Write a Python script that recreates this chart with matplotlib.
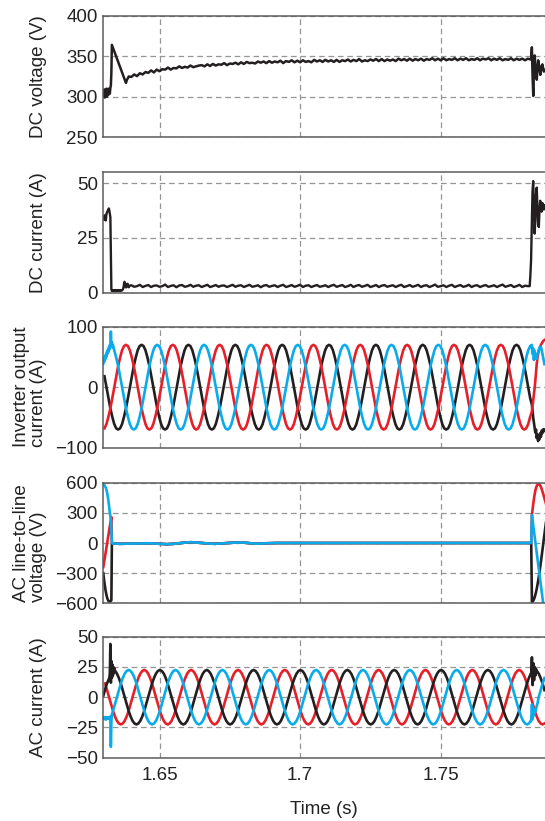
import numpy as np
import matplotlib.pyplot as plt

plt.rcParams['font.family'] = ['Liberation Sans', 'DejaVu Sans']
plt.rcParams['axes.unicode_minus'] = True

BLACK = '#231f20'
RED = '#e5202a'
BLUE = '#0aabea'

# ---- axis data ----
t_min, t_max = 1.630, 1.7871
x_ticks = [1.65, 1.70, 1.75]
x_tick_labels = ['1.65', '1.7', '1.75']
f_grid = 60.0  # Hz, read from the spacing of the peaks

# ---- DC voltage (V) ----
vdc_start = [306, 300, 309, 299, 308, 301, 310, 300, 309, 302, 310, 303,
             308, 304, 311, 314, 330, 364]            # every 0.18 ms from 1.630
vdc_knee_t = [1.63807, 1.63842, 1.63888]
vdc_knee_v = [317, 321, 323.5]
vdc_steady = [                                          # every 1 ms from 1.639
    325, 324.5, 327.5, 325.5, 329, 327.5, 330.5, 329.5, 332.5, 330,
    333.5, 331.5, 334, 333.5, 336, 333.5, 335.5, 335, 337.5, 335.5,
    337, 336, 338.5, 336.5, 337.5, 338.5, 339, 337.5, 340, 338,
    340.5, 338.5, 340, 339.5, 341.5, 339, 341, 340.5, 342, 340,
    342.5, 340.5, 343, 341.5, 342, 341, 343.5, 342, 343.5, 341.5,
    344, 342, 343.5, 342.5, 344.5, 341.5, 344, 343, 345, 342.5,
    344.5, 342.5, 345, 343, 344, 342.5, 345.5, 343.5, 345, 343,
    345.5, 343.5, 345, 343, 345.5, 343, 345, 344, 346, 343.5,
    345.5, 344, 346.5, 343.5, 345, 344, 346, 344.5, 346.5, 344,
    346.5, 344, 346, 344.5, 346, 344, 347, 345, 346.5, 344.5,
    347, 344.5, 346.5, 345, 347, 344.5, 346.5, 345.5, 347.5, 345,
    347, 345, 347.5, 345, 346.5, 345.5, 347.5, 345, 347, 345.5,
    347.5, 345, 346.5, 345.5, 347.5, 345, 347, 346, 347.5, 345,
    347, 345.5, 347.5, 345, 346.5, 345.5, 347.5, 345, 347, 345.5,
    347, 345, 347, 346]
vdc_end = [346, 361, 325, 301, 335, 351, 338, 326, 321, 335, 345, 340,
           333, 327, 334, 338, 340, 335, 331, 333]      # every 0.25 ms from 1.78218

# ---- DC current (A) ----
idc_start = [34.5, 33.5, 35, 33.5, 35.5, 33, 35.5, 36.5, 37, 37.5, 38, 38.5,
             37.5, 36, 34.5, 18, 1.5, 0.8,
             1.0, 1.2, 0.9, 1.1, 0.8, 1.0, 1.2, 0.9, 1.1, 0.9, 1.0, 1.2, 1.0,
             0.9, 1.1, 1.0, 1.2, 1.0, 0.9, 1.1, 1.3, 1.6, 2.5,
             4.0, 5.0, 4.2, 2.8, 2.4, 2.9, 3.8, 4.1, 3.2, 2.5, 2.6, 3.2]  # every 0.18 ms from 1.630
idc_steady = [                                          # every 1 ms from 1.640
    3.4, 2.7, 3.0, 3.6, 2.6, 3.1, 3.5, 2.6, 3.2, 3.3,
    2.7, 3.0, 3.7, 2.6, 3.1, 3.4, 2.5, 3.3, 3.5, 2.7,
    3.0, 3.6, 2.7, 3.2, 3.4, 2.6, 3.1, 3.6, 2.6, 3.0,
    3.5, 2.7, 3.2, 3.3, 2.6, 3.1, 3.6, 2.7, 3.2, 3.4,
    2.6, 3.1, 3.6, 2.7, 3.0, 3.4, 2.5, 3.2, 3.5, 2.7,
    3.1, 3.4, 2.6, 3.2, 3.6, 2.6, 3.0, 3.5, 2.7, 3.1,
    3.6, 2.6, 3.2, 3.4, 2.6, 3.1, 3.5, 2.7, 3.0, 3.4,
    2.6, 3.2, 3.6, 2.7, 3.1, 3.5, 2.6, 3.0, 3.6, 2.6,
    3.2, 3.5, 2.7, 3.1, 3.6, 2.6, 3.0, 3.5, 2.6, 3.2,
    3.5, 2.7, 3.1, 3.4, 2.6, 3.2, 3.6, 2.6, 3.0, 3.5,
    2.7, 3.1, 3.6, 2.6, 3.2, 3.4, 2.6, 3.1, 3.7, 2.7,
    3.0, 3.4, 2.6, 3.2, 3.6, 2.6, 3.1, 3.5, 2.7, 3.0,
    3.6, 2.6, 3.2, 3.4, 2.6, 3.1, 3.5, 2.7, 3.0, 3.4,
    2.6, 3.2, 3.7, 2.7, 3.1, 3.5, 2.6, 3.0, 3.6, 2.6,
    3.2, 3.0]
idc_end = [3, 8, 15, 30, 46, 51, 38, 27, 33, 45, 48, 40, 31, 30, 38, 42, 39,
           37, 41, 39, 38, 40]                          # every 0.25 ms from 1.78165

# ---- inverter output current (A): one 60 Hz cycle, 24 samples from the peak ----
inv_cycle = [70, 68, 61, 49, 35, 18, 0, -18, -35, -49, -61, -68,
             -70, -68, -61, -49, -35, -18, 0, 18, 35, 49, 61, 68]
inv_red_peak = 1.63807
inv_blue_start = [39, 45, 42, 50, 46, 54, 50, 58, 55, 62, 58, 66, 62, 70,
                  66, 92, 68, 74, 66, 70]               # every 0.18 ms from 1.630
inv_red_end = [-41, -32, -22, -12, -2, 10, 25, 38, 48, 55, 60, 64, 67, 70,
               72, 74, 76, 77, 78]                      # every 0.25 ms from 1.7824
inv_black_end = [-28, -38, -50, -58, -66, -75, -70, -84, -78, -89, -80, -86,
                 -76, -82, -72, -76, -70, -73, -70]
inv_blue_end = [70, 55, 64, 45, 60, 48, 52, 47, 55, 58, 62, 65, 67, 66, 62,
                56, 50, 44, 38]

# ---- AC line-to-line voltage (V) ----
acv_blue_start = [580, 578, 575, 568, 560, 550, 535, 515, 490, 460, 425, 385,
                  345, 300, 265, 230, 120, 0]           # every 0.18 ms from 1.630
acv_red_start = [-240, -210, -180, -150, -118, -86, -54, -22, 10, 42, 74, 106,
                 138, 168, 198, 228, 258, 0]
acv_black_start = [-300, -345, -385, -420, -455, -485, -510, -532, -550, -564,
                   -574, -580, -583, -583, -580, -576, -570, 0]
acv_mid_t = [1.63345, 1.63594, 1.63949, 1.64304, 1.64660, 1.65015, 1.65264,
             1.65513, 1.65833, 1.66117, 1.66437, 1.66721, 1.66970, 1.67325,
             1.67681, 1.67965, 1.68214, 1.68463, 1.68747, 1.69209, 1.69991,
             1.78220]
acv_mid_v = [-5, -8, -6, -5, -3, -8, -12, -8, 2, 8, 2, -5, -8, -2, 4, 5, -2,
             -7, -3, 0, 0, 0]
acv_blue_end = [0, 277, 222, 167, 113, 58, 3, -52, -107, -162, -216, -271,
                -326, -381, -436, -490, -545, -600, -640, -680, -720, -760]  # every 0.25 ms from 1.7822
acv_red_end = [0, 277, 340, 395, 445, 490, 525, 553, 570, 580, 585, 585, 580,
               570, 555, 535, 512, 490, 465, 440, 415, 390]
acv_black_end = [0, -589, -584, -573, -558, -538, -512, -483, -450, -411,
                 -370, -326, -278, -228, -175, -123, -68, -12, 43, 97, 152, 205]

# ---- AC current (A): one 60 Hz cycle, 24 samples from the peak ----
aci_cycle = [22.5, 21.7, 19.5, 15.9, 11.3, 5.8, 0, -5.8, -11.3, -15.9, -19.5, -21.7,
             -22.5, -21.7, -19.5, -15.9, -11.3, -5.8, 0, 5.8, 11.3, 15.9, 19.5, 21.7]
aci_red_peak = 1.64457
aci_black_start = [1, 2.5, 4, 5.5, 7, 8.5, 10, 11, 12, 13, 14, 15, 16, 20, 44,
                   12, 30, 16, 27, 18, 25, 20, 24, 21, 21.5]   # every 0.18 ms from 1.630
aci_blue_start = [-17, -18, -16.5, -18, -17, -18.5, -17, -18, -16.5, -17.5,
                  -17, -18, -16.5, -17, -16, -41, -20, -14, -13, -11.5]
aci_black_end = [19.4, 33, 10, 28, 14, 25, 18, 23, 21, 21]     # every 0.25 ms from 1.7822
aci_blue_end = [-19.6, -6, -18, -9, -15, -11, -12, -9, -7, -5]


def seg(t0, dt, vals):
    return t0 + dt * np.arange(len(vals)), np.asarray(vals, float)


def steady(cycle, t_peak, lag):
    n = len(cycle)
    vals = np.tile(np.roll(cycle, lag * n // 3), 12).astype(float)
    t = t_peak - 2 / f_grid + np.arange(len(vals)) / (f_grid * n)
    return t, vals


def window(tv, a, b):
    t, v = tv
    m = (t >= a) & (t <= b)
    return t[m], v[m]


def join(*parts):
    return (np.concatenate([p[0] for p in parts]),
            np.concatenate([p[1] for p in parts]))


fig = plt.figure(figsize=(5.45, 8.21), dpi=100)
left, width = 0.1895, 0.8105
rects = [(0.83277, 0.14811), (0.64348, 0.14665), (0.45469, 0.14738),
         (0.26516, 0.14689), (0.07710, 0.14738)]
axes = [fig.add_axes([left, b, width, h]) for b, h in rects]

ylims = [(250, 400), (0, 55), (-100, 100), (-600, 600), (-50, 50)]
yticks = [[250, 300, 350, 400], [0, 25, 50], [-100, 0, 100],
          [-600, -300, 0, 300, 600], [-50, -25, 0, 25, 50]]
ylabels = ['DC voltage (V)', 'DC current (A)', 'Inverter output\ncurrent (A)',
           'AC line-to-line\nvoltage (V)', 'AC current (A)']

lw = 1.9
fs = 13.5

# DC voltage
ax = axes[0]
t, v = join(seg(1.630, 0.00018, vdc_start), (np.array(vdc_knee_t), np.array(vdc_knee_v)),
            seg(1.639, 0.001, vdc_steady), seg(1.78218, 0.00025, vdc_end))
ax.plot(t, v, color=BLACK, lw=1.8)

# DC current
ax = axes[1]
t, v = join(seg(1.630, 0.00018, idc_start), seg(1.640, 0.001, idc_steady),
            seg(1.78165, 0.00025, idc_end))
ax.plot(t, v, color=BLACK, lw=1.7)

# inverter output current
ax = axes[2]
red = steady(inv_cycle, inv_red_peak, 0)
black = steady(inv_cycle, inv_red_peak, 1)
blue = steady(inv_cycle, inv_red_peak, 2)
t_end = 1.7824
ax.plot(*join(window(black, t_min, t_end), seg(t_end, 0.00025, inv_black_end)), color=BLACK, lw=lw)
ax.plot(*join(window(red, t_min, t_end), seg(t_end, 0.00025, inv_red_end)), color=RED, lw=lw)
ax.plot(*join(seg(1.630, 0.00018, inv_blue_start), window(blue, 1.6335, t_end),
              seg(t_end, 0.00025, inv_blue_end)), color=BLUE, lw=lw)

# AC line-to-line voltage (all three phases sit on the same near-zero trace mid-window)
ax = axes[3]
mid = (np.array(acv_mid_t), np.array(acv_mid_v, float))
ax.plot(*join(seg(1.630, 0.00018, acv_black_start), mid,
              seg(1.7822, 0.00025, acv_black_end)), color=BLACK, lw=lw)
ax.plot(*join(seg(1.630, 0.00018, acv_red_start), mid,
              seg(1.7822, 0.00025, acv_red_end)), color=RED, lw=lw)
ax.plot(*join(seg(1.630, 0.00018, acv_blue_start), mid,
              seg(1.7822, 0.00025, acv_blue_end)), color=BLUE, lw=lw)

# AC current
ax = axes[4]
red = steady(aci_cycle, aci_red_peak, 0)
black = steady(aci_cycle, aci_red_peak, 1)
blue = steady(aci_cycle, aci_red_peak, 2)
ax.plot(*window(red, t_min, t_max), color=RED, lw=lw)
ax.plot(*join(seg(1.630, 0.00018, aci_black_start), window(black, 1.6345, 1.7822),
              seg(1.7822, 0.00025, aci_black_end), window(black, 1.7847, t_max)),
        color=BLACK, lw=lw)
ax.plot(*join(seg(1.630, 0.00018, aci_blue_start), window(blue, 1.6335, 1.7822),
              seg(1.7822, 0.00025, aci_blue_end), window(blue, 1.7847, t_max)),
        color=BLUE, lw=lw)

for i, ax in enumerate(axes):
    ax.set_xlim(t_min, t_max)
    ax.set_ylim(*ylims[i])
    ax.set_yticks(yticks[i])
    ax.set_xticks(x_ticks)
    ax.grid(True, ls=(0, (4.5, 3)), color='#959595', lw=0.9)
    ax.tick_params(length=0, labelsize=fs, pad=4, colors='#222222')
    for s in ax.spines.values():
        s.set_color('#5c5c5c')
        s.set_linewidth(1.1)
    ax.spines['right'].set_visible(False)
    ax.set_ylabel(ylabels[i], fontsize=fs, color='#222222', multialignment='left',
                  linespacing=1.0)
    ax.yaxis.set_label_coords(-0.128, 0.5)
    if i < 4:
        ax.set_xticklabels([])
    else:
        ax.set_xticklabels(x_tick_labels)
        ax.tick_params(axis='x', pad=7)
        ax.set_xlabel('Time (s)', fontsize=fs, color='#222222', labelpad=12)

fig.savefig('out.png', dpi=100)
